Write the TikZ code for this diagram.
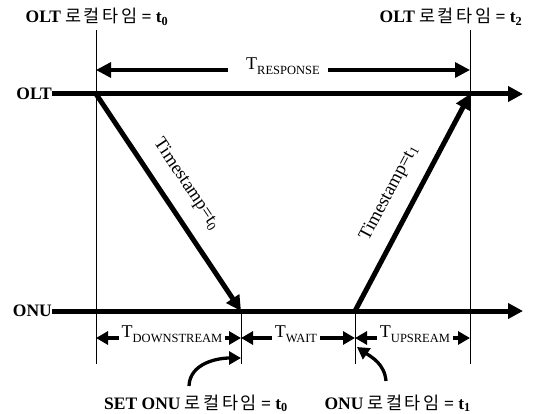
\documentclass[tikz,border=0pt]{standalone}
\usepackage{fontspec}
\setmainfont{Liberation Serif}
\newfontfamily\kor{Noto Sans CJK KR}[LetterSpace=14]
\usetikzlibrary{arrows.meta,positioning,calc}

\newcommand{\tsub}[1]{T\raisebox{-5pt}{\fontsize{12.5}{12.5}\selectfont #1}}
\newcommand{\lt}{{\kor\mdseries 로컬타임}}

\begin{document}
\begin{tikzpicture}[x=1pt,y=-1pt,>={Triangle[length=15pt,width=15pt]},
font=\fontsize{18}{20}\selectfont,
axis/.style={line width=5pt,->},
msg/.style={line width=5pt,->},
mark line/.style={line width=1pt},
dimarr/.style={line width=3.3pt,-{Triangle[length=12pt,width=13pt]}},
hook/.style={line width=3.3pt,-{Triangle[length=12pt,width=13pt]}},
lbl/.style={font=\fontsize{17.5}{20}\selectfont\bfseries,inner sep=0pt},
stamp/.style={font=\fontsize{18.5}{20}\selectfont,sloped,above=11pt},
dimlbl/.style={inner sep=3pt}]
\useasboundingbox (0,0) rectangle (540,414);
% time marks
\coordinate (t0) at (96,94);
\coordinate (t2) at (470,94);
\coordinate (r0) at (241,311);
\coordinate (s1) at (355,311);
\draw[mark line] (96,30) -- (96,364);
\draw[mark line] (470,30) -- (470,364);
\draw[mark line] (r0) -- (241,364);
\draw[mark line] (s1) -- (355,364);
% time lines
\node[lbl,anchor=east] (olt) at (52,94) {OLT};
\node[lbl,anchor=east] (onu) at (52,311) {ONU};
\draw[axis] (olt.east) -- (523,94);
\draw[axis] (onu.east) -- (523,311);
% messages
\draw[msg] (t0) -- node[stamp,pos=0.48] (ts0) {Timestamp=t\textsubscript{0}} (r0);
\draw[msg] (s1) -- node[stamp,pos=0.49] (ts1) {Timestamp=t\textsubscript{1}} (t2);
% response time
\node[dimlbl] (resp) at (283,66) {\tsub{RESPONSE}};
\draw[dimarr,->] ([xshift=-15pt]resp.west |- 0,70) -- (96,70);
\draw[dimarr,->] ([xshift=5pt]resp.east |- 0,70) -- (470,70);
% durations at ONU
\node[dimlbl] (down) at (172,334) {\tsub{DOWNSTREAM}};
\node[dimlbl] (wait) at (296,334) {\tsub{WAIT}};
\node[dimlbl] (up) at (415,334) {\tsub{UPSREAM}};
\draw[dimarr] (down.west |- 0,338) -- (96,338);
\draw[dimarr] (down.east |- 0,338) -- (241,338);
\draw[dimarr] (wait.west |- 0,338) -- (241,338);
\draw[dimarr] (wait.east |- 0,338) -- (355,338);
\draw[dimarr] (up.west |- 0,338) -- (355,338);
\draw[dimarr] (up.east |- 0,338) -- (470,338);
% local time labels
\node[lbl,anchor=base] (lt0) at (97,23) {OLT \lt{} = t\textsubscript{0}};
\node[lbl,anchor=base] (lt2) at (451,23) {OLT \lt{} = t\textsubscript{2}};
\node[lbl,anchor=base west] (set0) at (104,409) {SET ONU \lt{} = t\textsubscript{0}};
\node[lbl,anchor=base east] (lt1) at (471,409) {ONU \lt{} = t\textsubscript{1}};
\coordinate (h0) at (189,386);
\coordinate (h1) at (386,381);
\draw[hook] (h0) to[out=88,in=180] (241,358);
\draw[hook] (h1) to[out=95,in=-35] (357,347);
\end{tikzpicture}
\end{document}
